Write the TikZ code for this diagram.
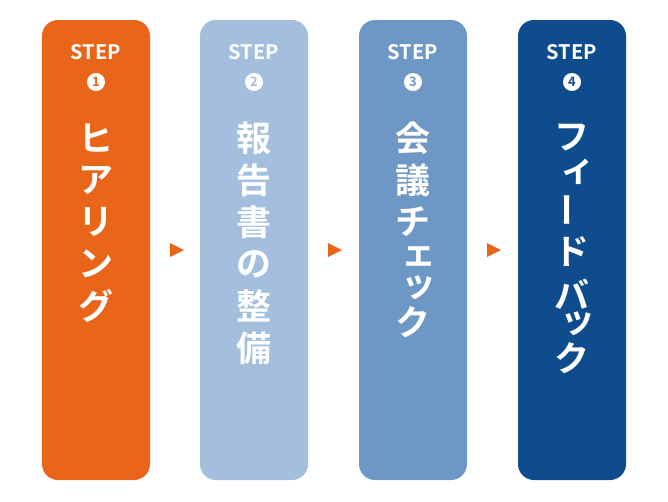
\documentclass[tikz,border=0pt]{standalone}
\usepackage{fontspec}
\newfontfamily\jp{Noto Sans CJK JP}[BoldFont={* Bold}]
\setmainfont{Noto Sans}
\definecolor{c1}{HTML}{E8651A}
\definecolor{c2}{HTML}{A3BFDD}
\definecolor{c3}{HTML}{6D97C4}
\definecolor{c4}{HTML}{0E4C8E}
\begin{document}
\begin{tikzpicture}[x=1pt,y=-1pt,
  card/.style={rounded corners=16pt,minimum width=108pt,minimum height=460pt,inner sep=0pt},
  steptxt/.style={text=white,font=\jp\bfseries\fontsize{20}{20}\selectfont},
  num/.style={circle,fill=white,inner sep=0pt,minimum size=18pt,font=\jp\bfseries\fontsize{13}{13}\selectfont},
  ch/.style={text=white,inner sep=0pt,font=\jp\bfseries\fontsize{35}{35}\selectfont},
  tri/.style={fill=c1}]
\useasboundingbox (0,0) rectangle (668,501);
\foreach \x/\c/\n [count=\k] in {96/c1/1,254/c2/2,413/c3/3,572/c4/4}{
  \node[card,fill=\c] (box\k) at (\x,250) {};
  \node[steptxt] (st\k) at (\x,52) {STEP};
  \node[num,text=\c] (n\k) at (\x,82) {\n};
}
\foreach \c [count=\i] in {ヒ,ア,リ,ン,グ}
  \node[ch] (a\i) at (96,{96+42*\i}) {\c};
\foreach \c [count=\i] in {報,告,書,の,整,備}
  \node[ch] (b\i) at (254,{96+42*\i}) {\c};
\node[ch] (c1) at (413,138) {会};
\node[ch] (c2) at (413,180) {議};
\node[ch] (c3) at (413,222) {チ};
\node[ch] (c4) at (419,256) {ェ};
\node[ch] (c5) at (419,288) {ッ};
\node[ch] (c6) at (413,322) {ク};
\node[ch] (d1) at (572,138) {フ};
\node[ch] (d2) at (578,172) {ィ};
\node[ch,rotate=90] (d3) at (572,210) {ー};
\node[ch] (d4) at (572,252) {ド};
\node[ch] (d5) at (572,294) {バ};
\node[ch] (d6) at (578,324) {ッ};
\node[ch] (d7) at (572,358) {ク};
\foreach \x [count=\k] in {170,328,487}
  \fill[tri] (\x,243) coordinate (t\k) -- (\x+14,250) -- (\x,257) -- cycle;
\end{tikzpicture}
\end{document}
